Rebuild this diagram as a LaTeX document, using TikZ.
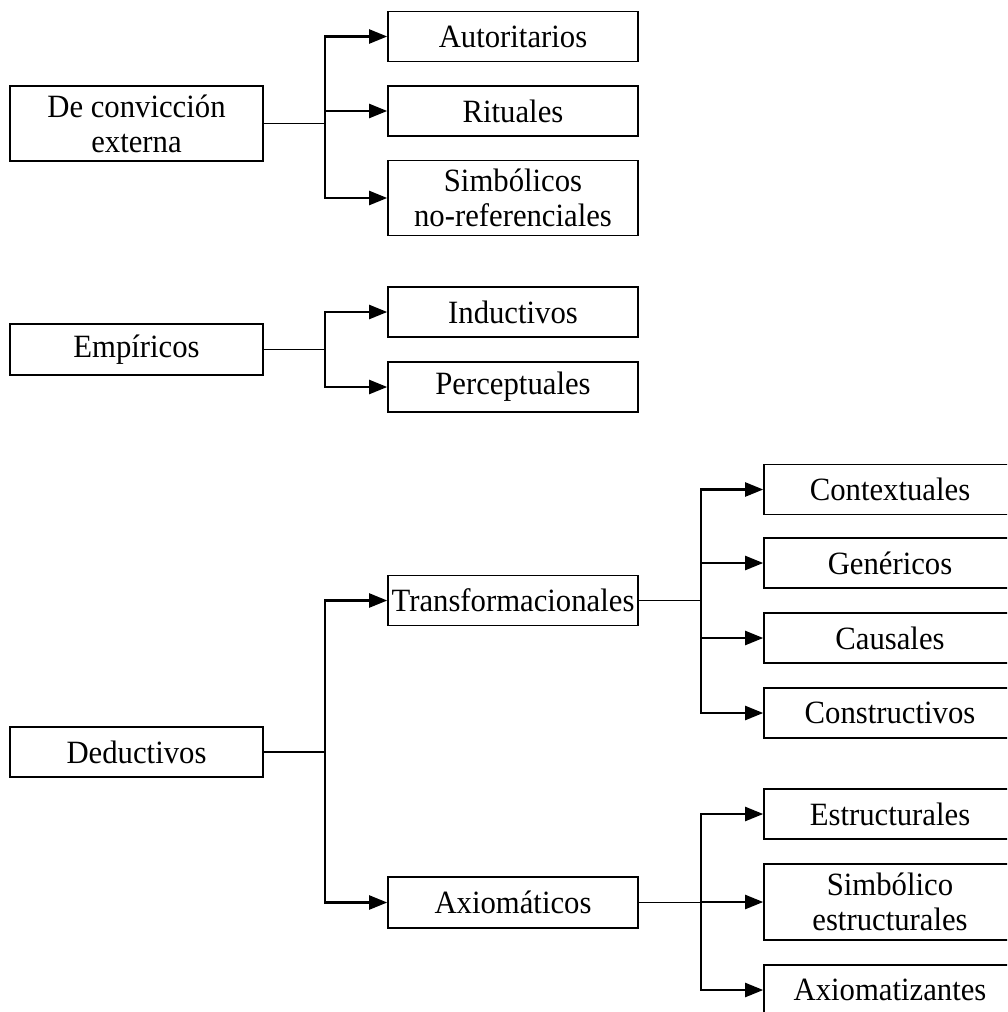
\documentclass[tikz,border=0pt]{standalone}
\usepackage{fontspec}
\setmainfont{Liberation Serif}[FakeStretch=0.945]
\usetikzlibrary{arrows.meta}
\begin{document}
\begin{tikzpicture}[x=1pt,y=-1pt,
  box/.style={draw, line width=1.6pt, inner sep=0pt, align=center,
    font=\fontsize{32.5}{35}\selectfont, minimum height=50pt},
  lbox/.style={box, minimum width=253pt},
  mbox/.style={box, minimum width=250pt},
  rbox/.style={box, minimum width=252pt},
  feed/.style={line width=1.2pt},
  bar/.style={line width=2.2pt, line cap=rect},
  arr/.style={line width=2.2pt, -{Triangle[length=18pt,width=14pt]}}]
\useasboundingbox (0,0) rectangle (1007,1012);
\clip (0,0) rectangle (1007,1012);
% left column
\node[lbox, minimum height=75pt] (dce) at (136.5,123.5) {De convicción\\externa};
\node[lbox, minimum height=51pt] (emp) at (136.5,349.5) {Empíricos};
\node[lbox] (ded) at (136.5,752) {Deductivos};
% middle column
\node[mbox] (aut) at (513,36.5) {Autoritarios};
\node[mbox] (rit) at (513,111) {Rituales};
\node[mbox, minimum height=75pt] (sim) at (513,198) {Simbólicos\\no-referenciales};
\node[mbox] (ind) at (513,312) {Inductivos};
\node[mbox] (per) at (513,387) {Perceptuales};
\node[mbox] (tra) at (513,600.5) {Transformacionales};
\node[mbox, minimum height=51pt] (axi) at (513,902.5) {Axiomáticos};
% right column
\node[rbox] (con) at (890,489.5) {Contextuales};
\node[rbox] (gen) at (890,563) {Genéricos};
\node[rbox] (cau) at (890,638) {Causales};
\node[rbox] (cns) at (890,713) {Constructivos};
\node[rbox] (est) at (890,814) {Estructurales};
\node[rbox, minimum height=76pt] (sest) at (890,902) {Simbólico\\estructurales};
\node[rbox] (axz) at (890,990) {Axiomatizantes};
% junctions
\coordinate (j1) at (325,123.5);
\coordinate (j2) at (325,349.5);
\coordinate (j3) at (325,752);
\coordinate (j4) at (701,600.5);
\coordinate (j5) at (701,902.5);
% feeds
\draw[feed] (dce.east) -- (j1);
\draw[feed] (emp.east) -- (j2);
\draw[feed] (ded.east) -- (j3);
\draw[feed] (tra.east) -- (j4);
\draw[feed] (axi.east) -- (j5);
% vertical bars
\draw[bar] (j1 |- aut.west) -- (j1 |- sim.west);
\draw[bar] (j2 |- ind.west) -- (j2 |- per.west);
\draw[bar] (j3 |- tra.west) -- (j3 |- axi.west);
\draw[bar] (j4 |- con.west) -- (j4 |- cns.west);
\draw[bar] (j5 |- est.west) -- (j5 |- axz.west);
% arrows
\foreach \c in {aut,rit,sim} \draw[arr] (j1 |- \c.west) -- (\c.west);
\foreach \c in {ind,per} \draw[arr] (j2 |- \c.west) -- (\c.west);
\foreach \c in {tra,axi} \draw[arr] (j3 |- \c.west) -- (\c.west);
\foreach \c in {con,gen,cau,cns} \draw[arr] (j4 |- \c.west) -- (\c.west);
\foreach \c in {est,sest,axz} \draw[arr] (j5 |- \c.west) -- (\c.west);
\end{tikzpicture}
\end{document}
